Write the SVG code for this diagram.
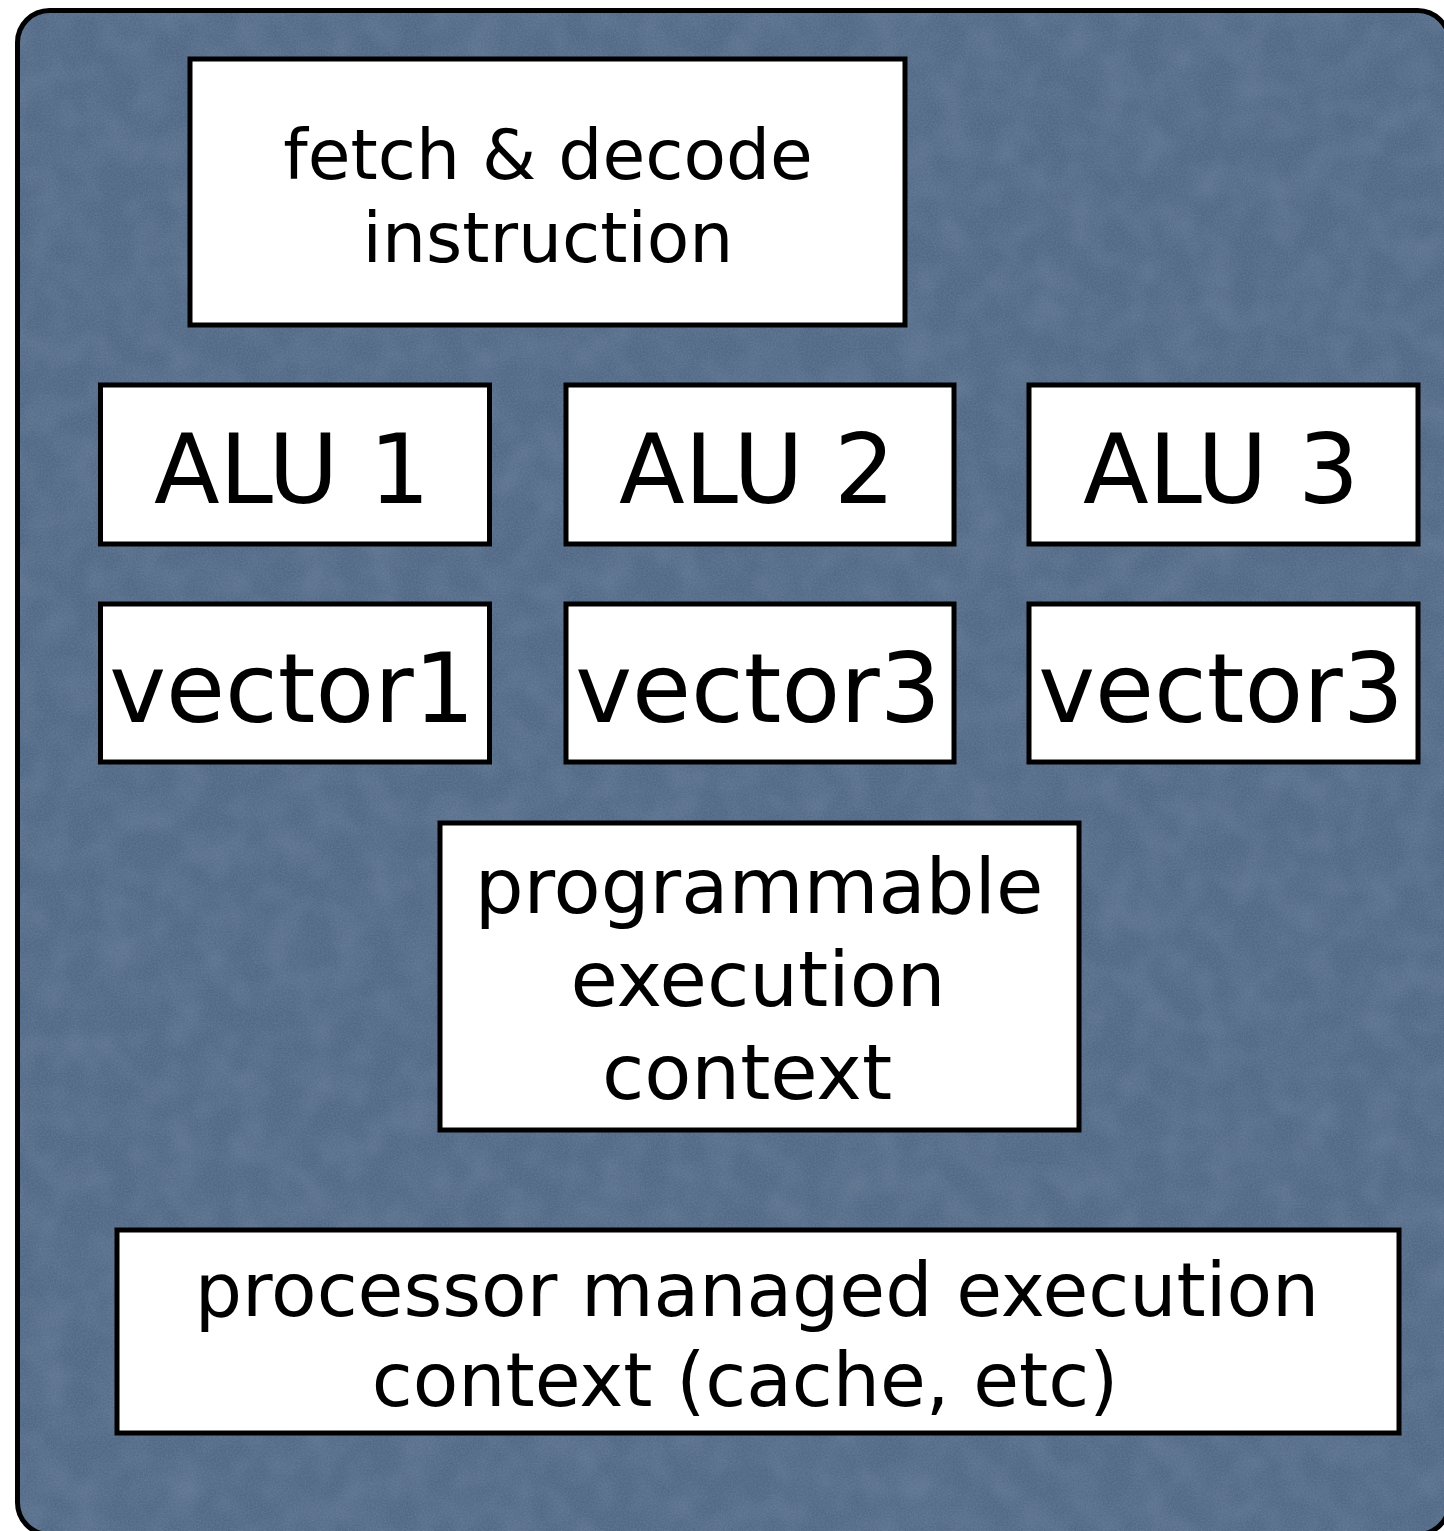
<svg xmlns="http://www.w3.org/2000/svg" width="1444" height="1531" viewBox="0 0 1444 1531">
  <defs>
    <!-- paper-like grain for the core panel -->
    <filter id="grain" x="0" y="0" width="100%" height="100%">
      <feTurbulence type="fractalNoise" baseFrequency="0.6" numOctaves="3" seed="7" result="noise"/>
      <feColorMatrix in="noise" type="matrix" values="0 0 0 0 0.2  0 0 0 0 0.27  0 0 0 0 0.37  0 0 0 0.6 -0.15" result="tint"/>
      <feComposite in="tint" in2="SourceGraphic" operator="in"/>
    </filter>
    <filter id="mottle" x="0" y="0" width="100%" height="100%">
      <feTurbulence type="fractalNoise" baseFrequency="0.03" numOctaves="2" seed="3" result="n"/>
      <feColorMatrix in="n" type="matrix" values="0 0 0 0 0.6  0 0 0 0 0.68  0 0 0 0 0.78  0 0 0 0.2 -0.07" result="t"/>
      <feComposite in="t" in2="SourceGraphic" operator="in"/>
    </filter>
  </defs>
  <style>
    .box { fill: #ffffff; stroke: #000000; stroke-width: 5; }
    .lbl { font-family: "DejaVu Sans", "Liberation Sans", sans-serif; fill: #000000; text-anchor: middle; }
    .big { font-size: 96px; }
    .prog { font-size: 77px; }
    .proc { font-size: 74.5px; }
    .sm { font-size: 69.5px; }
  </style>

  <rect width="1444" height="1531" fill="#ffffff"/>

  <!-- core panel -->
  <g id="core">
    <rect x="17.5" y="10.5" width="1432" height="1524" rx="32" fill="#506886"/>
    <rect x="17.5" y="10.5" width="1432" height="1524" rx="32" fill="#506886" filter="url(#mottle)"/>
    <rect x="17.5" y="10.5" width="1432" height="1524" rx="32" fill="#506886" filter="url(#grain)"/>
    <rect x="17.5" y="10.5" width="1432" height="1524" rx="32" fill="none" stroke="#000000" stroke-width="5"/>
  </g>

  <g id="fetch-decode">
    <rect class="box" x="190" y="59" width="715" height="266"/>
    <text class="lbl sm" x="548" y="179">fetch &amp; decode</text>
    <text class="lbl sm" x="548" y="262">instruction</text>
  </g>

  <g id="alu1">
    <rect class="box" x="100.5" y="385" width="389" height="159"/>
    <text class="lbl big" x="292" y="503">ALU 1</text>
  </g>
  <g id="alu2">
    <rect class="box" x="566" y="385" width="388" height="159"/>
    <text class="lbl big" x="757" y="503">ALU 2</text>
  </g>
  <g id="alu3">
    <rect class="box" x="1029" y="385" width="389" height="159"/>
    <text class="lbl big" x="1221" y="503">ALU 3</text>
  </g>

  <g id="vector1">
    <rect class="box" x="100.5" y="604" width="389" height="158"/>
    <text class="lbl big" x="292" y="722">vector1</text>
  </g>
  <g id="vector2">
    <rect class="box" x="566" y="604" width="388" height="158"/>
    <text class="lbl big" x="758" y="722">vector3</text>
  </g>
  <g id="vector3">
    <rect class="box" x="1029" y="604" width="389" height="158"/>
    <text class="lbl big" x="1221" y="722">vector3</text>
  </g>

  <g id="programmable-context">
    <rect class="box" x="440" y="823" width="639" height="307"/>
    <text class="lbl prog" x="759" y="913">programmable</text>
    <text class="lbl prog" x="758" y="1006">execution</text>
    <text class="lbl prog" x="747" y="1099">context</text>
  </g>

  <g id="processor-context">
    <rect class="box" x="117" y="1230" width="1282" height="203"/>
    <text class="lbl proc" x="757" y="1316">processor managed execution</text>
    <text class="lbl proc" x="745" y="1406">context (cache, etc)</text>
  </g>

  <g id="connectors"/>
</svg>
